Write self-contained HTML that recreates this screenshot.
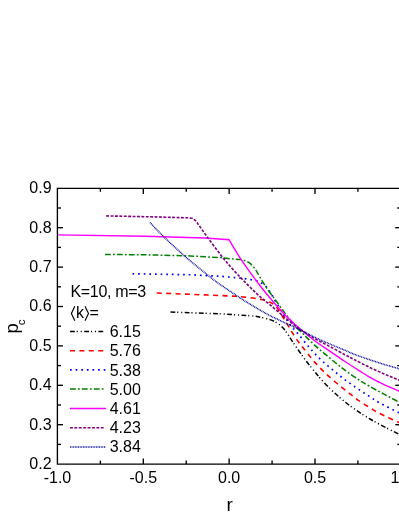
<!DOCTYPE html>
<html><head><meta charset="utf-8"><title>chart</title>
<style>
html,body{margin:0;padding:0;background:#fff;}
body{width:399px;height:516px;position:relative;overflow:hidden;font-family:"Liberation Sans",sans-serif;}
</style></head><body>
<svg width="399" height="516" viewBox="0 0 399 516" style="position:absolute;left:0;top:0;will-change:transform">
<path d="M170.50 312.00 L220.00 313.75 C225.00 314.08 243.33 315.18 250.00 315.75 C256.67 316.32 256.67 316.56 260.00 317.20 C263.33 317.84 267.07 318.58 270.00 319.60 C272.93 320.62 275.33 321.80 277.60 323.30 C279.87 324.80 281.85 326.68 283.60 328.60 C285.35 330.52 286.62 332.63 288.10 334.80 C289.58 336.97 290.77 339.02 292.50 341.60 C294.23 344.18 296.50 347.43 298.50 350.30 C300.50 353.17 302.48 356.08 304.50 358.80 C306.52 361.52 308.58 364.08 310.60 366.60 C312.62 369.12 314.98 371.93 316.60 373.90 C318.22 375.87 318.07 375.95 320.30 378.40 C322.53 380.85 326.78 385.43 330.00 388.60 C333.22 391.77 336.43 394.67 339.60 397.40 C342.77 400.13 345.75 402.55 349.00 405.00 C352.25 407.45 355.77 409.87 359.10 412.10 C362.43 414.33 365.67 416.40 369.00 418.40 C372.33 420.40 374.10 421.47 379.10 424.10 C384.10 426.73 394.68 432.05 399.00 434.20 C403.32 436.35 404.00 436.53 405.00 437.00" fill="none" stroke="#000000" stroke-width="1.5" stroke-dasharray="4.8 1.9 1.1 2.9 1.1 2.4"/>
<path d="M156.75 293.00 L220.00 295.50 C222.05 295.60 228.13 295.83 232.30 296.10 C236.47 296.37 240.33 296.58 245.00 297.10 C249.67 297.62 256.13 298.33 260.30 299.20 C264.47 300.07 267.63 301.30 270.00 302.30 C272.37 303.30 273.23 304.17 274.50 305.20 C275.77 306.23 276.33 306.73 277.60 308.50 C278.87 310.27 280.35 312.95 282.10 315.80 C283.85 318.65 286.35 322.72 288.10 325.60 C289.85 328.48 290.85 330.35 292.60 333.10 C294.35 335.85 296.87 339.65 298.60 342.10 C300.33 344.55 301.25 345.58 303.00 347.80 C304.75 350.02 307.08 352.93 309.10 355.40 C311.12 357.87 312.98 360.23 315.10 362.60 C317.22 364.97 319.55 367.33 321.80 369.60 C324.05 371.87 325.72 373.60 328.60 376.20 C331.48 378.80 335.48 382.22 339.10 385.20 C342.72 388.18 346.97 391.50 350.30 394.10 C353.63 396.70 355.97 398.62 359.10 400.80 C362.23 402.98 365.77 405.15 369.10 407.20 C372.43 409.25 374.12 410.55 379.10 413.10 C384.08 415.65 394.68 420.48 399.00 422.50 C403.32 424.52 404.00 424.75 405.00 425.20" fill="none" stroke="#ff0000" stroke-width="1.6" stroke-dasharray="5.0 4.4"/>
<path d="M132.50 273.75 L190.00 274.75 L220.00 276.25 C222.42 276.48 230.20 277.18 234.50 277.60 C238.80 278.03 242.05 278.25 245.80 278.80 C249.55 279.35 254.25 280.10 257.00 280.90 C259.75 281.70 260.72 282.58 262.30 283.60 C263.88 284.62 265.32 285.75 266.50 287.00 C267.68 288.25 268.43 289.63 269.40 291.10 C270.37 292.57 270.53 292.85 272.30 295.80 C274.07 298.75 277.12 304.10 280.00 308.80 C282.88 313.50 286.62 319.87 289.60 324.00 C292.58 328.13 294.78 329.88 297.90 333.60 C301.02 337.32 305.32 342.80 308.30 346.30 C311.28 349.80 313.17 351.87 315.80 354.60 C318.43 357.33 321.22 360.10 324.10 362.70 C326.98 365.30 330.23 367.82 333.10 370.20 C335.97 372.58 338.43 374.77 341.30 377.00 C344.17 379.23 347.17 381.37 350.30 383.60 C353.43 385.83 356.85 388.23 360.10 390.40 C363.35 392.57 366.63 394.57 369.80 396.60 C372.97 398.63 374.23 399.90 379.10 402.60 C383.97 405.30 394.68 410.60 399.00 412.80 C403.32 415.00 404.00 415.30 405.00 415.80" fill="none" stroke="#0000ff" stroke-width="1.7" stroke-dasharray="1.7 3.92"/>
<path d="M105.00 254.40 L150.00 254.90 L190.00 255.90 L220.00 257.60 C221.67 257.78 226.67 258.37 230.00 258.70 C233.33 259.03 237.50 259.28 240.00 259.60 C242.50 259.92 243.33 259.97 245.00 260.60 C246.67 261.23 248.48 262.23 250.00 263.40 C251.52 264.57 252.85 266.03 254.10 267.60 C255.35 269.17 256.13 270.53 257.50 272.80 C258.87 275.07 260.62 278.43 262.30 281.20 C263.98 283.97 265.83 286.83 267.60 289.40 C269.37 291.97 271.23 294.33 272.90 296.60 C274.57 298.87 275.57 300.20 277.60 303.00 C279.63 305.80 282.35 309.80 285.10 313.40 C287.85 317.00 291.10 321.18 294.10 324.60 C297.10 328.02 299.60 330.40 303.10 333.90 C306.60 337.40 310.60 341.53 315.10 345.60 C319.60 349.67 325.12 354.20 330.10 358.30 C335.08 362.40 340.17 366.58 345.00 370.20 C349.83 373.82 355.08 377.37 359.10 380.00 C363.12 382.63 364.93 383.63 369.10 386.00 C373.27 388.37 379.12 391.52 384.10 394.20 C389.08 396.88 395.52 400.30 399.00 402.10 C402.48 403.90 404.00 404.52 405.00 405.00" fill="none" stroke="#008000" stroke-width="1.5" stroke-dasharray="5.8 2.2 1.8 2.1"/>
<path d="M57.00 234.90 L145.00 236.20 L205.00 238.00 L229.20 239.80 C230.08 241.30 232.70 245.80 234.50 248.80 C236.30 251.80 237.48 254.00 240.00 257.80 C242.52 261.60 246.35 267.07 249.60 271.60 C252.85 276.13 256.10 280.60 259.50 285.00 C262.90 289.40 265.73 293.00 270.00 298.00 C274.27 303.00 280.10 309.87 285.10 315.00 C290.10 320.13 295.02 324.47 300.00 328.80 C304.98 333.13 309.98 337.25 315.00 341.00 C320.02 344.75 325.10 347.88 330.10 351.30 C335.10 354.72 340.17 358.28 345.00 361.50 C349.83 364.72 355.08 368.05 359.10 370.60 C363.12 373.15 364.93 374.47 369.10 376.80 C373.27 379.13 379.12 382.22 384.10 384.60 C389.08 386.98 395.52 389.57 399.00 391.10 C402.48 392.63 404.00 393.35 405.00 393.80" fill="none" stroke="#ff00ff" stroke-width="1.45"/>
<path d="M106.20 215.90 L150.00 216.80 L188.00 217.80 C188.70 217.88 191.12 217.97 192.20 218.30 C193.28 218.63 193.70 219.08 194.50 219.80 C195.30 220.52 194.82 219.67 197.00 222.60 C199.18 225.53 203.58 231.93 207.60 237.40 C211.62 242.87 216.85 250.03 221.10 255.40 C225.35 260.77 229.12 265.15 233.10 269.60 C237.08 274.05 240.93 277.98 245.00 282.10 C249.07 286.22 253.33 290.52 257.50 294.30 C261.67 298.08 265.40 300.93 270.00 304.80 C274.60 308.67 280.10 313.42 285.10 317.50 C290.10 321.58 295.02 325.77 300.00 329.30 C304.98 332.83 309.98 335.80 315.00 338.70 C320.02 341.60 325.10 344.03 330.10 346.70 C335.10 349.37 341.02 352.57 345.00 354.70 C348.98 356.83 349.98 357.43 354.00 359.50 C358.02 361.57 364.08 364.70 369.10 367.10 C374.12 369.50 379.12 371.72 384.10 373.90 C389.08 376.08 395.52 378.73 399.00 380.20 C402.48 381.67 404.00 382.28 405.00 382.70" fill="none" stroke="#800080" stroke-width="1.6" stroke-dasharray="2.9 1.5"/>
<path d="M150.00 222.50 C152.17 224.75 157.32 230.48 163.00 236.00 C168.68 241.52 177.10 249.45 184.10 255.60 C191.10 261.75 199.85 268.70 205.00 272.90 C210.15 277.10 210.82 277.73 215.00 280.80 C219.18 283.87 225.08 287.92 230.10 291.30 C235.12 294.68 240.12 297.97 245.10 301.10 C250.08 304.23 255.85 307.68 260.00 310.10 C264.15 312.52 265.82 313.47 270.00 315.60 C274.18 317.73 280.08 320.53 285.10 322.90 C290.12 325.27 295.12 327.38 300.10 329.80 C305.08 332.22 310.00 335.02 315.00 337.40 C320.00 339.78 325.10 341.95 330.10 344.10 C335.10 346.25 341.02 348.62 345.00 350.30 C348.98 351.98 349.98 352.67 354.00 354.20 C358.02 355.73 364.08 357.80 369.10 359.50 C374.12 361.20 379.12 362.87 384.10 364.40 C389.08 365.93 395.52 367.70 399.00 368.70 C402.48 369.70 404.00 370.12 405.00 370.40" fill="none" stroke="#000098" stroke-width="1.5" stroke-dasharray="0.9 0.72"/>
<g stroke="#000" stroke-width="1.35" fill="none">
<path d="M405 188.3 H57.4 V464.1 H405"/>
<path d="M100.38 188.3 v3.5"/>
<path d="M100.38 464.1 v-3.5"/>
<path d="M143.30 188.3 v5.6"/>
<path d="M143.30 464.1 v-5.6"/>
<path d="M186.23 188.3 v3.5"/>
<path d="M186.23 464.1 v-3.5"/>
<path d="M229.15 188.3 v5.6"/>
<path d="M229.15 464.1 v-5.6"/>
<path d="M272.07 188.3 v3.5"/>
<path d="M272.07 464.1 v-3.5"/>
<path d="M315.00 188.3 v5.6"/>
<path d="M315.00 464.1 v-5.6"/>
<path d="M357.92 188.3 v3.5"/>
<path d="M357.92 464.1 v-3.5"/>
<path d="M57.4 444.40 h3.6"/>
<path d="M400.85 444.40 h-3.6"/>
<path d="M57.4 424.70 h5.6"/>
<path d="M400.85 424.70 h-5.6"/>
<path d="M57.4 405.00 h3.6"/>
<path d="M400.85 405.00 h-3.6"/>
<path d="M57.4 385.30 h5.6"/>
<path d="M400.85 385.30 h-5.6"/>
<path d="M57.4 365.60 h3.6"/>
<path d="M400.85 365.60 h-3.6"/>
<path d="M57.4 345.90 h5.6"/>
<path d="M400.85 345.90 h-5.6"/>
<path d="M57.4 326.20 h3.6"/>
<path d="M400.85 326.20 h-3.6"/>
<path d="M57.4 306.50 h5.6"/>
<path d="M400.85 306.50 h-5.6"/>
<path d="M57.4 286.80 h3.6"/>
<path d="M400.85 286.80 h-3.6"/>
<path d="M57.4 267.10 h5.6"/>
<path d="M400.85 267.10 h-5.6"/>
<path d="M57.4 247.40 h3.6"/>
<path d="M400.85 247.40 h-3.6"/>
<path d="M57.4 227.70 h5.6"/>
<path d="M400.85 227.70 h-5.6"/>
<path d="M57.4 208.00 h3.6"/>
<path d="M400.85 208.00 h-3.6"/>
</g>
<g font-family="Liberation Sans, sans-serif" font-size="16" fill="#000">
<text x="51.6" y="469.00" text-anchor="end">0.2</text>
<text x="51.6" y="429.60" text-anchor="end">0.3</text>
<text x="51.6" y="390.20" text-anchor="end">0.4</text>
<text x="51.6" y="350.80" text-anchor="end">0.5</text>
<text x="51.6" y="311.40" text-anchor="end">0.6</text>
<text x="51.6" y="272.00" text-anchor="end">0.7</text>
<text x="51.6" y="232.60" text-anchor="end">0.8</text>
<text x="51.6" y="193.20" text-anchor="end">0.9</text>
<text x="57.45" y="483.3" text-anchor="middle">-1.0</text>
<text x="143.30" y="483.3" text-anchor="middle">-0.5</text>
<text x="229.15" y="483.3" text-anchor="middle">0.0</text>
<text x="315.00" y="483.3" text-anchor="middle">0.5</text>
<text x="401.55" y="483.3" text-anchor="middle">1.0</text>
</g>
<g font-family="Liberation Sans, sans-serif" fill="#000">
<text x="229.6" y="510.8" font-size="19" text-anchor="middle">r</text>
<text transform="translate(18.3,333.4) rotate(-90)" font-size="18.5">p<tspan font-size="11.5" dy="6.2" dx="-2.1">c</tspan></text>
</g>
<g font-family="Liberation Sans, sans-serif" font-size="16" fill="#000">
<text x="70.4" y="297" letter-spacing="-0.3">K=10, m=3</text>
<text x="76.1" y="318">k</text>
<text x="89.4" y="318">=</text>
<path d="M74.8 306.2 L71.4 313.5 L74.8 320.75 M85 306.2 L88.5 313.5 L85 320.75" fill="none" stroke="#000" stroke-width="1.15"/>
<path d="M70.0 331.4 H103.5" stroke="#000000" stroke-width="1.50" stroke-dasharray="4.8 1.9 1.1 2.9 1.1 2.4" fill="none"/>
<text x="109.7" y="337">6.15</text>
<path d="M70.0 350.8 H103.5" stroke="#ff0000" stroke-width="1.60" stroke-dasharray="5.0 4.4" fill="none"/>
<text x="109.7" y="356">5.76</text>
<path d="M70.0 369.9 H105.8" stroke="#0000ff" stroke-width="1.70" stroke-dasharray="1.7 3.92" fill="none"/>
<text x="109.7" y="376">5.38</text>
<path d="M70.0 389 H103.8" stroke="#008000" stroke-width="1.50" stroke-dasharray="5.8 2.2 1.8 2.1" fill="none"/>
<text x="109.7" y="395">5.00</text>
<path d="M70.0 408.4 H105.9" stroke="#ff00ff" stroke-width="1.45" fill="none"/>
<text x="109.7" y="414">4.61</text>
<path d="M70.0 427.8 H104" stroke="#800080" stroke-width="1.60" stroke-dasharray="2.9 1.5" fill="none"/>
<text x="109.7" y="433">4.23</text>
<path d="M70.0 447 H105.9" stroke="#000098" stroke-width="1.50" stroke-dasharray="0.9 0.72" fill="none"/>
<text x="109.7" y="452">3.84</text>
</g>
</svg>
</body></html>
